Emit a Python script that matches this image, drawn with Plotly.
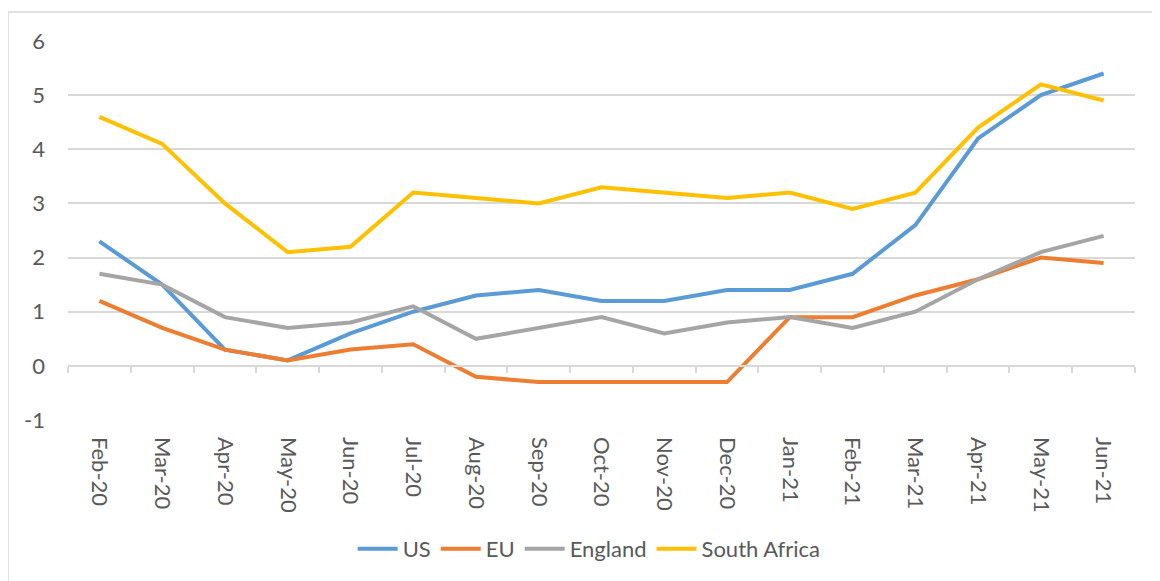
import plotly.graph_objects as go

months = ["Feb-20", "Mar-20", "Apr-20", "May-20", "Jun-20", "Jul-20", "Aug-20", "Sep-20",
          "Oct-20", "Nov-20", "Dec-20", "Jan-21", "Feb-21", "Mar-21", "Apr-21", "May-21", "Jun-21"]
us = [2.3, 1.5, 0.3, 0.1, 0.6, 1.0, 1.3, 1.4, 1.2, 1.2, 1.4, 1.4, 1.7, 2.6, 4.2, 5.0, 5.4]
eu = [1.2, 0.7, 0.3, 0.1, 0.3, 0.4, -0.2, -0.3, -0.3, -0.3, -0.3, 0.9, 0.9, 1.3, 1.6, 2.0, 1.9]
england = [1.7, 1.5, 0.9, 0.7, 0.8, 1.1, 0.5, 0.7, 0.9, 0.6, 0.8, 0.9, 0.7, 1.0, 1.6, 2.1, 2.4]
south_africa = [4.6, 4.1, 3.0, 2.1, 2.2, 3.2, 3.1, 3.0, 3.3, 3.2, 3.1, 3.2, 2.9, 3.2, 4.4, 5.2, 4.9]
y_ticks = [-1, 0, 1, 2, 3, 4, 5, 6]
y_tick_labels = ["-1", "0", "1", "2", "3", "4", "5", "6"]

series = [("US", us, "#5B9BD5"), ("EU", eu, "#ED7D31"),
          ("England", england, "#A5A5A5"), ("South Africa", south_africa, "#FFC000")]

FONT = "Lato, Open Sans, Liberation Sans, sans-serif"
GRID = "#D9D9D9"
TEXT = "#595959"

# figure-space geometry (page has an 8px body margin)
L, T, R, B = 60, 33, 33, 169
W, H = 1160, 581
pw, ph = W - L - R, H - T - B

fig = go.Figure()
for name, vals, col in series:
    fig.add_trace(go.Scatter(x=months, y=vals, name=name, mode="lines",
                             line=dict(color=col, width=4)))

# transparent helper trace so the category axis crossing at zero is drawn
fig.add_trace(go.Scatter(x=months, y=us, xaxis="x2", yaxis="y", showlegend=False,
                         hoverinfo="skip", mode="lines",
                         line=dict(color="rgba(0,0,0,0)", width=0)))

fig.update_layout(
    width=W, height=H,
    margin=dict(l=L, r=R, t=T, b=B, autoexpand=False),
    paper_bgcolor="white", plot_bgcolor="white",
    showlegend=True,
    legend=dict(orientation="h", xref="container", yref="container",
                x=0.501, xanchor="center", y=0.069, yanchor="middle",
                font=dict(family=FONT, size=22, color=TEXT),
                itemwidth=40, traceorder="normal", bgcolor="rgba(0,0,0,0)"),
    xaxis=dict(type="category", categoryorder="array", categoryarray=months,
               range=[-0.5, len(months) - 0.5], tickangle=90,
               tickfont=dict(family=FONT, size=22, color=TEXT), ticklabelstandoff=16,
               showgrid=False, showline=False, ticks="", zeroline=False, automargin=False),
    xaxis2=dict(type="category", categoryorder="array", categoryarray=months,
                range=[-0.5, len(months) - 0.5], overlaying="x", anchor="free",
                position=(0 - y_ticks[0]) / (y_ticks[-1] - y_ticks[0]),
                showticklabels=False, ticks="outside", tickson="boundaries", ticklen=6,
                tickwidth=1.5, tickcolor=GRID, showline=True, linecolor=GRID, linewidth=1.5,
                showgrid=False, zeroline=False, automargin=False),
    yaxis=dict(range=[y_ticks[0], y_ticks[-1]], tickvals=y_ticks, ticktext=y_tick_labels,
               showgrid=True, gridcolor=GRID, gridwidth=1.5, zeroline=False, showline=False,
               tickfont=dict(family=FONT, size=22, color=TEXT), ticks="",
               ticklabelstandoff=22, automargin=False),
    shapes=[dict(type="rect", xref="paper", yref="paper",
                 x0=(0 - L) / pw, x1=(W + 20 - L) / pw,
                 y0=(ph + T - H - 20) / ph, y1=(ph + T - 4) / ph,
                 line=dict(color=GRID, width=1.5), fillcolor="rgba(0,0,0,0)", layer="below")],
)
fig.write_html("out.html")
